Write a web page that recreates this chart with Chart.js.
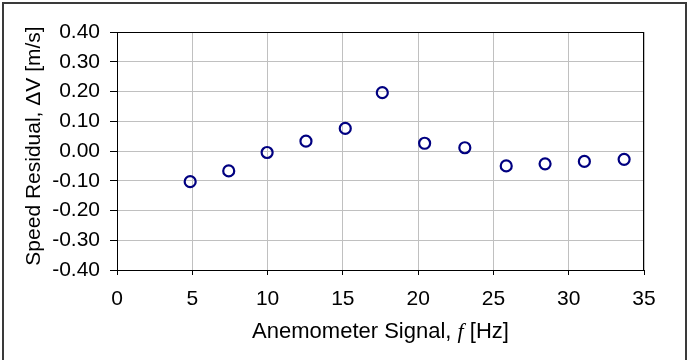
<!DOCTYPE html>
<html>
<head>
<meta charset="utf-8">
<script src="https://cdn.jsdelivr.net/npm/chart.js@4.4.1/dist/chart.umd.min.js"></script>
<style>
  html, body { margin: 0; padding: 0; background: #fff; }
  #chart { display: block; }
</style>
</head>
<body>
<canvas id="chart" width="687" height="360"></canvas>
<script>
// anemometer calibration residuals
const signalHz = [4.86, 7.42, 9.97, 12.55, 15.16, 17.62, 20.43, 23.1, 25.85, 28.43, 31.04, 33.68];
const residual = [-0.103, -0.067, -0.005, 0.033, 0.076, 0.196, 0.026, 0.011, -0.050, -0.043, -0.035, -0.028];

const xTicks = [0, 5, 10, 15, 20, 25, 30, 35];
const yTicks = [-0.4, -0.3, -0.2, -0.1, 0, 0.1, 0.2, 0.3, 0.4];

const SANS = "'Liberation Sans', Arial, sans-serif";
const SERIF = "'Liberation Serif', 'Times New Roman', serif";

const points = signalHz.map((x, i) => ({ x, y: residual[i] }));

// frame, plot border and the two axis titles (mixed fonts)
const decorations = {
  id: "decorations",
  beforeDatasetsDraw(chart) {
    const { ctx, chartArea: a } = chart;
    ctx.save();
    ctx.strokeStyle = "#000";
    ctx.lineWidth = 1;
    ctx.strokeRect(a.left + 0.5, a.top + 0.5, a.right - a.left - 1, a.bottom - a.top);
    ctx.restore();
  },
  afterDraw(chart) {
    const { ctx, chartArea: a, width } = chart;
    ctx.save();

    // outer frame
    ctx.strokeStyle = "#3a3a3a";
    ctx.lineWidth = 2;
    ctx.beginPath();
    ctx.moveTo(3, 400);
    ctx.lineTo(3, 3);
    ctx.lineTo(width - 1, 3);
    ctx.lineTo(width - 1, 400);
    ctx.stroke();

    ctx.fillStyle = "#000";
    ctx.textBaseline = "alphabetic";

    // x title
    const parts = [
      { t: "Anemometer Signal, ", f: "22px " + SANS },
      { t: "f", f: "italic 22px " + SERIF },
      { t: " [Hz]", f: "22px " + SANS },
    ];
    let total = 0;
    parts.forEach(p => { ctx.font = p.f; p.w = ctx.measureText(p.t).width; total += p.w; });
    let x = (a.left + a.right) / 2 - total / 2;
    parts.forEach(p => { ctx.font = p.f; ctx.fillText(p.t, x, 338); x += p.w; });

    // y title
    ctx.translate(40, 146);
    ctx.rotate(-Math.PI / 2);
    ctx.font = "21px " + SANS;
    ctx.textAlign = "center";
    ctx.fillText("Speed Residual, \u0394V [m/s]", 0, 0);

    ctx.restore();
  },
};

new Chart(document.getElementById("chart"), {
  type: "scatter",
  data: {
    datasets: [{
      data: points,
      pointStyle: "circle",
      pointRadius: 5.5,
      pointHoverRadius: 5.5,
      pointBorderWidth: 2.2,
      pointBorderColor: "#000080",
      pointBackgroundColor: "rgba(255,255,255,0)",
      showLine: false,
    }],
  },
  options: {
    responsive: false,
    animation: false,
    devicePixelRatio: 1,
    layout: { padding: { top: 32, right: 43, left: 0, bottom: 0 } },
    plugins: {
      legend: { display: false },
      tooltip: { enabled: false },
    },
    scales: {
      x: {
        type: "linear",
        min: 0,
        max: 35,
        afterFit: s => { s.height = 90; },
        afterBuildTicks: s => { s.ticks = xTicks.map(v => ({ value: v })); },
        ticks: {
          color: "#000",
          font: { family: SANS, size: 21 },
          padding: 12,
          maxRotation: 0,
          callback: v => String(v),
        },
        grid: { color: "#c0c0c0", tickColor: "#000", tickLength: 5 },
        border: { display: true, color: "#000", width: 1 },
      },
      y: {
        type: "linear",
        min: -0.4,
        max: 0.4,
        afterFit: s => { s.width = 117; },
        afterBuildTicks: s => { s.ticks = yTicks.map(v => ({ value: v })); },
        ticks: {
          color: "#000",
          font: { family: SANS, size: 21 },
          padding: 10,
          callback: v => (Math.abs(v) < 1e-9 ? 0 : v).toFixed(2),
        },
        grid: { color: "#c0c0c0", tickColor: "#000", tickLength: 7 },
        border: { display: true, color: "#000", width: 1 },
      },
    },
  },
  plugins: [decorations],
});
</script>
</body>
</html>
